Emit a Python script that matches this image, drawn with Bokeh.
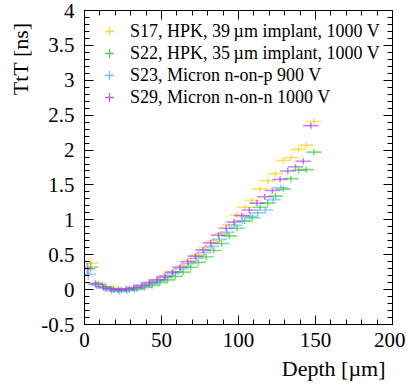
from bokeh.plotting import figure
from bokeh.models import (Range1d, LinearAxis, FixedTicker, CustomJSTickFormatter,
                          Legend, LegendItem, Title, ColumnDataSource)
from bokeh.embed import file_html
from bokeh.resources import INLINE

# ---------------- data ----------------
s17_x = [4, 9, 14, 19, 24, 29, 34, 39, 44, 49, 54, 59, 64, 69, 74, 79, 84, 89, 94, 99,
         104, 109, 114, 119, 124, 129, 134, 139, 144, 149]
s17_y = [0.38, 0.09, 0.04, 0.02, 0.00, 0.01, 0.03, 0.06, 0.10, 0.14, 0.20, 0.26, 0.34, 0.42,
         0.50, 0.60, 0.70, 0.80, 0.93, 1.07, 1.18, 1.28, 1.44, 1.56, 1.66, 1.85, 1.89, 2.01,
         2.07, 2.41]

s22_x = [4, 9, 14, 19, 24, 29, 34, 39, 44, 49, 54, 59, 64, 69, 74, 79, 84, 89, 94, 99,
         104, 109, 114, 119, 124, 129, 134, 139, 144, 149]
s22_y = [0.32, 0.07, 0.03, 0.00, -0.01, 0.00, 0.01, 0.03, 0.06, 0.10, 0.14, 0.19, 0.25, 0.32,
         0.39, 0.47, 0.56, 0.66, 0.77, 0.88, 0.98, 1.03, 1.18, 1.24, 1.34, 1.44, 1.59, 1.71,
         1.72, 1.97]

s23_x = [2.5, 7.5, 12.5, 17.5, 22.5, 27.5, 32.5, 37.5, 42.5, 47.5, 52.5, 57.5, 62.5, 67.5,
         72.5, 77.5, 82.5, 87.5, 92.5, 97.5, 102.5, 107.5, 112.5, 117.5, 122.5, 127.5]
s23_y = [0.22, 0.07, 0.02, -0.02, -0.03, -0.02, 0.00, 0.04, 0.08, 0.12, 0.17, 0.23, 0.30, 0.37,
         0.45, 0.53, 0.62, 0.72, 0.82, 0.92, 0.99, 1.05, 1.10, 1.14, 1.29, 1.46]

s29_x = [2, 7, 12, 17, 22, 27, 32, 37, 42, 47, 52, 57, 62, 67, 72, 77, 82, 87, 92, 97,
         102, 107, 112, 117, 122, 127, 132, 137, 142, 147]
s29_y = [0.30, 0.09, 0.04, 0.01, 0.00, 0.01, 0.03, 0.06, 0.10, 0.14, 0.19, 0.25, 0.32, 0.40,
         0.48, 0.57, 0.67, 0.78, 0.88, 0.97, 1.06, 1.14, 1.24, 1.33, 1.42, 1.58, 1.70, 1.76,
         1.84, 2.35]

x_halfwidth = 5.0
y_err = 0.045
y_err_first = 0.08

labels = ["S17, HPK, 39\u2009\u00b5m implant, 1000 V",
          "S22, HPK, 35\u2009\u00b5m implant, 1000 V",
          "S23, Micron n-on-p 900 V",
          "S29, Micron n-on-n 1000 V"]
colors = ["#FFCC00", "#22CC22", "#55AAFF", "#AA33EE"]

x_ticks = [0, 50, 100, 150, 200]
y_ticks = [-0.5, 0, 0.5, 1, 1.5, 2, 2.5, 3, 3.5, 4]

FONT = "Liberation Serif"

# ---------------- figure ----------------
p = figure(output_backend="svg", toolbar_location=None, width=405, height=384,
           x_range=Range1d(0, 200), y_range=Range1d(-0.5, 4),
           min_border_left=79, min_border_right=13, min_border_top=10, min_border_bottom=60)
p.xgrid.visible = False
p.ygrid.visible = False
p.outline_line_color = "black"
p.outline_line_width = 1
p.background_fill_color = "white"
p.border_fill_color = "white"

xt = FixedTicker(ticks=x_ticks, minor_ticks=[v for v in range(0, 201, 10)])
yt = FixedTicker(ticks=y_ticks, minor_ticks=[round(-0.5 + 0.1 * i, 2) for i in range(46)])

def style_axis(ax, ticker, show_labels):
    ax.ticker = ticker
    ax.major_tick_in = 9
    ax.major_tick_out = 0
    ax.minor_tick_in = 5
    ax.minor_tick_out = 0
    ax.axis_line_color = "black"
    ax.axis_line_width = 1
    ax.major_tick_line_color = "black"
    ax.minor_tick_line_color = "black"
    ax.major_tick_line_width = 1
    ax.minor_tick_line_width = 1
    ax.major_label_text_font = FONT
    ax.major_label_text_font_size = "21px"
    ax.major_label_text_color = "black"
    if show_labels:
        ax.formatter = CustomJSTickFormatter(code="return tick.toString()")
    else:
        ax.formatter = CustomJSTickFormatter(code="return ''")
        ax.major_label_standoff = 0

style_axis(p.xaxis[0], xt, True)
style_axis(p.yaxis[0], yt, True)
p.xaxis[0].major_label_standoff = 8
p.yaxis[0].major_label_standoff = 10

top_ax = LinearAxis()
right_ax = LinearAxis()
style_axis(top_ax, xt, False)
style_axis(right_ax, yt, False)
p.add_layout(top_ax, "above")
p.add_layout(right_ax, "right")

# ---------------- data marks ----------------
series = [(s17_x, s17_y), (s22_x, s22_y), (s23_x, s23_y), (s29_x, s29_y)]
items = []
for (xs, ys), col, lab in zip(series, colors, labels):
    errs = [y_err_first] + [y_err] * (len(ys) - 1)
    src = ColumnDataSource(dict(
        x=xs, y=ys,
        x0=[v - x_halfwidth for v in xs], x1=[v + x_halfwidth for v in xs],
        y0=[v - e for v, e in zip(ys, errs)], y1=[v + e for v, e in zip(ys, errs)]))
    p.segment(x0="x0", y0="y", x1="x1", y1="y", source=src,
              line_color=col, line_width=1.6, line_alpha=0.6)
    p.segment(x0="x", y0="y0", x1="x", y1="y1", source=src,
              line_color=col, line_width=1.6, line_alpha=0.6)
    leg_r = p.scatter(x="x", y="y", source=src, marker="cross", size=0,
                      line_color=col, line_width=1.3, line_alpha=0.8)
    items.append(LegendItem(label=lab, renderers=[leg_r]))

legend = Legend(items=items, location=(14, 216), orientation="vertical",
                glyph_width=22, glyph_height=22, label_height=22, spacing=0,
                padding=0, margin=0,
                label_standoff=10, label_text_font=FONT, label_text_font_size="18px",
                label_text_color="black", background_fill_alpha=0, border_line_alpha=0)
p.add_layout(legend, "center")

# ---------------- axis titles ----------------
p.add_layout(Title(text="Depth [\u00b5m]", align="right", text_font=FONT,
                   text_font_size="22px", text_font_style="normal", text_color="black",
                   standoff=8, offset=7), "below")
p.add_layout(Title(text="TtT [ns]", align="right", text_font=FONT,
                   text_font_size="22px", text_font_style="normal", text_color="black",
                   standoff=11, offset=12), "left")

open("out.html", "w").write(file_html(p, INLINE))
